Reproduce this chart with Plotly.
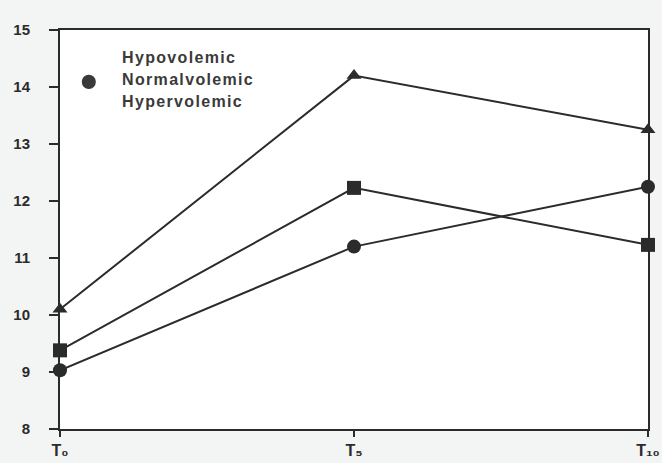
import plotly.graph_objects as go

times = [0, 5, 10]
tick_labels = ["<b>T\u2080</b>", "<b>T\u2085</b>", "<b>T\u2081\u2080</b>"]
hypervolemic = [10.1, 14.2, 13.25]   # triangles
hypovolemic = [9.38, 12.23, 11.23]   # squares
normalvolemic = [9.03, 11.2, 12.25]  # circles

legend_labels = ["Hypovolemic", "Normalvolemic", "Hypervolemic"]

ink = "#2b2b2b"
fig = go.Figure()
for name, vals, sym in [("Hypervolemic", hypervolemic, "triangle-up"),
                        ("Hypovolemic", hypovolemic, "square"),
                        ("Normalvolemic", normalvolemic, "circle")]:
    fig.add_trace(go.Scatter(
        x=times, y=vals, mode="lines+markers", name=name,
        line=dict(color=ink, width=2),
        marker=dict(symbol=sym, size=14 if sym != "triangle-up" else 13, color=ink),
        cliponaxis=False, showlegend=False))

fig.update_layout(
    width=662, height=463,
    margin=dict(l=60, r=14, t=30, b=34, autoexpand=False),
    paper_bgcolor="#f3f4f4", plot_bgcolor="#ffffff",
    xaxis=dict(range=[0, 10], tickvals=times, ticktext=tick_labels,
               automargin=False,
               showgrid=False, zeroline=False, showline=True, linecolor=ink,
               linewidth=2, mirror=True, ticks="outside", ticklen=6,
               tickwidth=2, tickcolor=ink,
               tickfont=dict(family="Liberation Sans, DejaVu Sans, Arial", size=16, color=ink)),
    yaxis=dict(range=[8, 15], dtick=1, showgrid=False, zeroline=False,
               automargin=False,
               showline=True, linecolor=ink, linewidth=2, mirror=True,
               ticks="outside", ticklen=9, tickwidth=2, tickcolor=ink,
               ticklabelstandoff=16,
               tickprefix="<b>", ticksuffix="</b>",
               tickfont=dict(family="Liberation Sans, Arial", size=15, color=ink)),
)

ys = [0.932, 0.875, 0.82]
for lab, yy in zip(legend_labels, ys):
    fig.add_annotation(xref="paper", yref="paper", x=0.102, y=yy, xanchor="left",
                       yanchor="middle", showarrow=False,
                       text="<b>" + "\u200a".join(list(lab)) + "</b>",
                       font=dict(family="Liberation Sans, Arial, sans-serif", size=16, color="#3a3a3a"))

# legend symbol for Normalvolemic
fig.add_shape(type="circle", xref="paper", yref="paper",
              x0=0.037, x1=0.061, y0=0.852, y1=0.888,
              fillcolor="#3a3a3a", line=dict(color="#3a3a3a", width=0))

fig.write_html("out.html", config={"displayModeBar": False},
               post_script="document.body.style.margin='0';document.body.style.background='#f3f4f4';")
